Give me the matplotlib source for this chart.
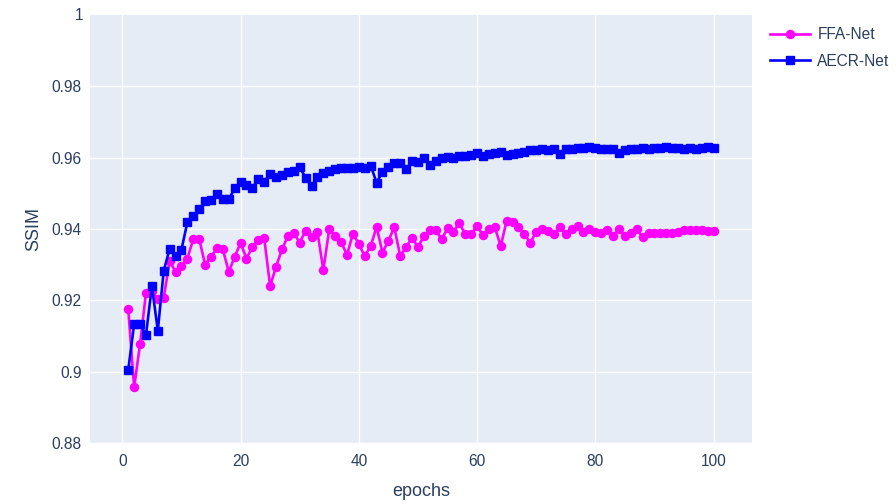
import numpy as np
import matplotlib.pyplot as plt

plt.rcParams['font.family'] = ['Liberation Sans', 'DejaVu Sans']

# donnees
epochs = np.arange(1, 101)

ffa_net = [
    0.9175, 0.8956, 0.9078, 0.9221, 0.9225, 0.9205, 0.9207, 0.9310, 0.9280, 0.9297,
    0.9317, 0.9372, 0.9372, 0.9300, 0.9322, 0.9346, 0.9343, 0.9280, 0.9322, 0.9361,
    0.9317, 0.9350, 0.9369, 0.9374, 0.9240, 0.9294, 0.9343, 0.9380, 0.9388, 0.9362,
    0.9395, 0.9377, 0.9392, 0.9285, 0.9400, 0.9380, 0.9364, 0.9327, 0.9387, 0.9358,
    0.9324, 0.9352, 0.9406, 0.9334, 0.9367, 0.9405, 0.9324, 0.9349, 0.9376, 0.9349,
    0.9380, 0.9397, 0.9397, 0.9371, 0.9402, 0.9392, 0.9417, 0.9385, 0.9386, 0.9408,
    0.9383, 0.9400, 0.9405, 0.9352, 0.9423, 0.9421, 0.9406, 0.9386, 0.9361, 0.9392,
    0.9399, 0.9395, 0.9386, 0.9405, 0.9386, 0.9399, 0.9408, 0.9392, 0.9399, 0.9391,
    0.9390, 0.9397, 0.9380, 0.9399, 0.9380, 0.9388, 0.9399, 0.9378, 0.9390, 0.9388,
    0.9390, 0.9390, 0.9388, 0.9392, 0.9397, 0.9397, 0.9397, 0.9397, 0.9395, 0.9395,
]

aecr_net = [
    0.9005, 0.9134, 0.9133, 0.9103, 0.9240, 0.9115, 0.9283, 0.9344, 0.9323, 0.9342,
    0.9419, 0.9437, 0.9455, 0.9478, 0.9482, 0.9498, 0.9483, 0.9483, 0.9514, 0.9531,
    0.9524, 0.9516, 0.9540, 0.9533, 0.9555, 0.9547, 0.9552, 0.9559, 0.9562, 0.9574,
    0.9543, 0.9521, 0.9545, 0.9558, 0.9563, 0.9567, 0.9571, 0.9572, 0.9572, 0.9573,
    0.9572, 0.9578, 0.9530, 0.9561, 0.9575, 0.9585, 0.9586, 0.9568, 0.9590, 0.9587,
    0.9599, 0.9580, 0.9590, 0.9599, 0.9602, 0.9599, 0.9605, 0.9604, 0.9608, 0.9612,
    0.9606, 0.9611, 0.9613, 0.9615, 0.9608, 0.9611, 0.9613, 0.9615, 0.9621, 0.9621,
    0.9623, 0.9621, 0.9623, 0.9611, 0.9623, 0.9625, 0.9627, 0.9627, 0.9630, 0.9627,
    0.9625, 0.9625, 0.9623, 0.9613, 0.9621, 0.9625, 0.9623, 0.9627, 0.9625, 0.9627,
    0.9627, 0.9630, 0.9627, 0.9627, 0.9625, 0.9627, 0.9625, 0.9627, 0.9630, 0.9627,
]

x_ticks = [0, 20, 40, 60, 80, 100]
y_ticks = [0.88, 0.90, 0.92, 0.94, 0.96, 0.98]
y_labels = ['0.88', '0.9', '0.92', '0.94', '0.96', '0.98']

TXT = '#2a3f5f'

fig = plt.figure(figsize=(8.96, 5.04), dpi=100)
ax = fig.add_axes([90/896, 1 - 443/504, (752 - 90)/896, (443 - 15)/504])
ax.set_facecolor('#E5ECF6')

ax.plot(epochs, ffa_net, color='#FF00FF', lw=1.9, marker='o', ms=5.8,
        label='FFA-Net', zorder=3)
ax.plot(epochs, aecr_net, color='#0000FF', lw=1.9, marker='s', ms=5.4,
        label='AECR-Net', zorder=4)

ax.set_xlim(-5.47, 106.5)
ax.set_ylim(0.88, 1.0)
ax.set_xticks(x_ticks)
ax.set_yticks(y_ticks)
ax.set_yticklabels(y_labels)
ax.grid(True, color='white', lw=1.0)
ax.set_axisbelow(True)
for s in ax.spines.values():
    s.set_visible(False)
ax.tick_params(length=0, labelsize=11.2, colors=TXT, pad=8)
ax.tick_params(axis='y', pad=6)
# le "1" en haut, sans ligne de grille
ax.text(-0.01, 1.0, '1', transform=ax.transAxes, ha='right', va='center',
        fontsize=11.2, color=TXT)

ax.set_xlabel('epochs', fontsize=13, color=TXT, labelpad=10)
ax.set_ylabel('SSIM', fontsize=13, color=TXT, labelpad=7)

leg = ax.legend(loc='upper left', bbox_to_anchor=(770/896, 1 - 27/504),
                bbox_transform=fig.transFigure, frameon=False, fontsize=11.2,
                handlelength=2.6, handletextpad=0.45, labelspacing=0.75,
                borderpad=0, borderaxespad=0)
for t in leg.get_texts():
    t.set_color(TXT)

fig.savefig('out.png', dpi=100)
